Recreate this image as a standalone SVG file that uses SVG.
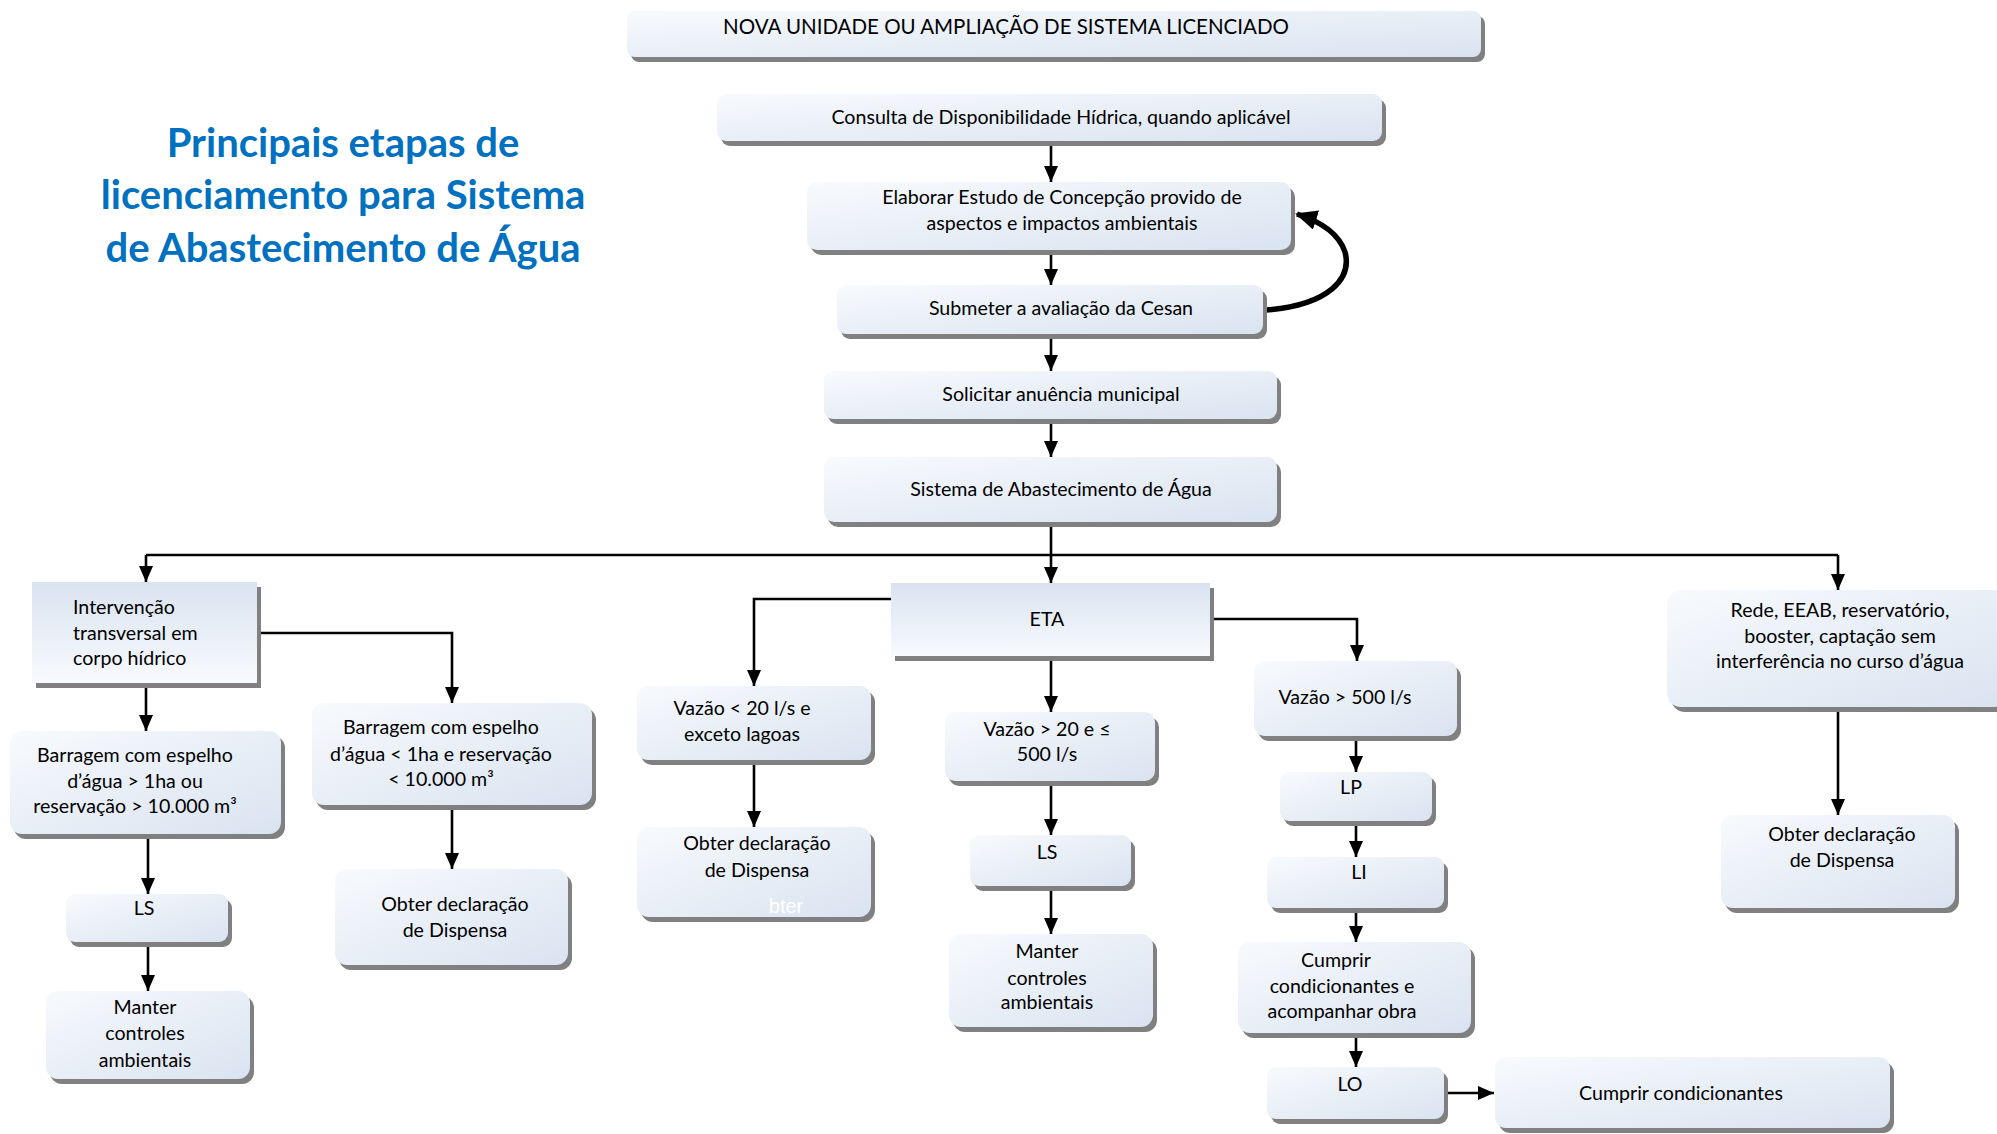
<svg xmlns="http://www.w3.org/2000/svg" width="1997" height="1134" viewBox="0 0 1997 1134">
<defs>
<linearGradient id="g" x1="0" y1="0" x2="1" y2="1">
<stop offset="0" stop-color="#f8fafd"/>
<stop offset="1" stop-color="#d9e3f0"/>
</linearGradient>
<linearGradient id="gv" x1="0" y1="0" x2="0" y2="1">
<stop offset="0" stop-color="#d9e3f0"/>
<stop offset="1" stop-color="#f8fafd"/>
</linearGradient>
<marker id="ar" viewBox="0 0 16 14" refX="16" refY="7" markerWidth="16" markerHeight="14" markerUnits="userSpaceOnUse" orient="auto">
<path d="M0,0 L16,7 L0,14 z" fill="#000"/>
</marker>
<marker id="arb" viewBox="0 0 22 20" refX="20" refY="10" markerWidth="22" markerHeight="20" markerUnits="userSpaceOnUse" orient="auto">
<path d="M0,0 L22,10 L0,20 z" fill="#000"/>
</marker>
</defs>
<style>
.sh{fill:#808080}
.bx{fill:url(#g)}
.bq{fill:url(#gv)}
.t{font-family:Lato,"Liberation Sans",sans-serif;font-size:19.6px;fill:#000;text-anchor:middle}
.tl{text-anchor:start}
.ttl{font-family:Lato,"Liberation Sans",sans-serif;font-size:40px;font-weight:bold;fill:#0070c0;text-anchor:middle}
.c{fill:none;stroke:#000;stroke-width:2.6}
.ca{fill:none;stroke:#000;stroke-width:2.6;marker-end:url(#ar)}
</style>
<rect width="1997" height="1134" fill="#fff"/>

<g id="title">
<text class="ttl" x="343" y="157">Principais etapas de</text>
<text class="ttl" x="343" y="209">licenciamento para Sistema</text>
<text class="ttl" x="343" y="262">de Abastecimento de Água</text>
</g>

<g id="connectors">
<path class="ca" d="M1051,141 V182"/>
<path class="ca" d="M1051,250 V285"/>
<path class="ca" d="M1051,334 V371"/>
<path class="ca" d="M1051,419 V457"/>
<path class="c" d="M1051,522 V555 M146,555 H1838"/>
<path class="ca" d="M146,555 V582"/>
<path class="ca" d="M1051,555 V583"/>
<path class="ca" d="M1838,555 V590"/>
<path d="M1266,310 C1330,305 1352,278 1345,252 C1339,234 1322,222 1297,214" fill="none" stroke="#000" stroke-width="5.5" marker-end="url(#arb)"/>
<path class="ca" d="M146,683 V731"/>
<path class="ca" d="M257,633 H452 V703"/>
<path class="ca" d="M148,834 V894"/>
<path class="ca" d="M148,942 V991"/>
<path class="ca" d="M452,805 V869"/>
<path class="ca" d="M915,599 H754 V686"/>
<path class="ca" d="M754,760 V827"/>
<path class="ca" d="M1051,656 V712"/>
<path class="ca" d="M1051,781 V835"/>
<path class="ca" d="M1051,886 V934"/>
<path class="ca" d="M1210,619 H1357 V661"/>
<path class="ca" d="M1356,736 V772"/>
<path class="ca" d="M1356,821 V857"/>
<path class="ca" d="M1356,908 V942"/>
<path class="ca" d="M1356,1033 V1067"/>
<path class="ca" d="M1444,1093 H1494"/>
<path class="ca" d="M1838,707 V815"/>
</g>

<g id="n-nova">
<rect class="sh" x="631" y="16" width="854" height="46" rx="8"/>
<rect class="bx" x="627" y="11" width="854" height="46" rx="8"/>
<text class="t" x="1006" y="34" style="font-size:20.5px">NOVA UNIDADE OU AMPLIAÇÃO DE SISTEMA LICENCIADO</text>
</g>
<g id="n-consulta">
<rect class="sh" x="721" y="99" width="665" height="47" rx="9"/>
<rect class="bx" x="717" y="94" width="665" height="47" rx="9"/>
<text class="t" x="1061" y="123.5">Consulta de Disponibilidade Hídrica, quando aplicável</text>
</g>
<g id="n-elaborar">
<rect class="sh" x="811" y="187" width="484" height="68" rx="10"/>
<rect class="bx" x="807" y="182" width="484" height="68" rx="10"/>
<text class="t" x="1062" y="203.5">Elaborar Estudo de Concepção provido de</text>
<text class="t" x="1062" y="229.5">aspectos e impactos ambientais</text>
</g>
<g id="n-submeter">
<rect class="sh" x="841" y="290" width="426" height="49" rx="9"/>
<rect class="bx" x="837" y="285" width="426" height="49" rx="9"/>
<text class="t" x="1061" y="314.5">Submeter a avaliação da Cesan</text>
</g>
<g id="n-solicitar">
<rect class="sh" x="828" y="376" width="453" height="48" rx="9"/>
<rect class="bx" x="824" y="371" width="453" height="48" rx="9"/>
<text class="t" x="1061" y="400.5">Solicitar anuência municipal</text>
</g>
<g id="n-sistema">
<rect class="sh" x="828" y="462" width="453" height="65" rx="10"/>
<rect class="bx" x="824" y="457" width="453" height="65" rx="10"/>
<text class="t" x="1061" y="495.5">Sistema de Abastecimento de Água</text>
</g>

<g id="n-intervencao">
<rect class="sh" x="36" y="587" width="225" height="101"/>
<rect class="bq" x="32" y="582" width="225" height="101"/>
<text class="t tl" x="73" y="613.5">Intervenção</text>
<text class="t tl" x="73" y="639.5">transversal em</text>
<text class="t tl" x="73" y="664.5">corpo hídrico</text>
</g>
<g id="n-barragem1">
<rect class="sh" x="14" y="736" width="271" height="103" rx="12"/>
<rect class="bx" x="10" y="731" width="271" height="103" rx="12"/>
<text class="t" x="135" y="761.5">Barragem com espelho</text>
<text class="t" x="135" y="787.5">d’água &gt; 1ha ou</text>
<text class="t" x="135" y="812.5">reservação &gt; 10.000 m³</text>
</g>
<g id="n-ls1">
<rect class="sh" x="70" y="899" width="162" height="48" rx="9"/>
<rect class="bx" x="66" y="894" width="162" height="48" rx="9"/>
<text class="t" x="144" y="914.5">LS</text>
</g>
<g id="n-manter1">
<rect class="sh" x="50" y="996" width="204" height="88" rx="12"/>
<rect class="bx" x="46" y="991" width="204" height="88" rx="12"/>
<text class="t" x="145" y="1013.5">Manter</text>
<text class="t" x="145" y="1039.5">controles</text>
<text class="t" x="145" y="1066.5">ambientais</text>
</g>
<g id="n-barragem2">
<rect class="sh" x="316" y="708" width="280" height="102" rx="12"/>
<rect class="bx" x="312" y="703" width="280" height="102" rx="12"/>
<text class="t" x="441" y="733.5">Barragem com espelho</text>
<text class="t" x="441" y="760.5">d’água &lt; 1ha e reservação</text>
<text class="t" x="441" y="785.5">&lt; 10.000 m³</text>
</g>
<g id="n-obter1">
<rect class="sh" x="339" y="874" width="233" height="96" rx="12"/>
<rect class="bx" x="335" y="869" width="233" height="96" rx="12"/>
<text class="t" x="455" y="910.5">Obter declaração</text>
<text class="t" x="455" y="936.5">de Dispensa</text>
</g>

<g id="n-eta">
<rect class="sh" x="895" y="588" width="319" height="73"/>
<rect class="bq" x="891" y="583" width="319" height="73"/>
<text class="t" x="1047" y="625.5">ETA</text>
</g>
<g id="n-vazao20">
<rect class="sh" x="641" y="691" width="234" height="74" rx="11"/>
<rect class="bx" x="637" y="686" width="234" height="74" rx="11"/>
<text class="t" x="742" y="714.5">Vazão &lt; 20 l/s e</text>
<text class="t" x="742" y="740.5">exceto lagoas</text>
</g>
<g id="n-obter2">
<rect class="sh" x="641" y="832" width="234" height="90" rx="12"/>
<rect class="bx" x="637" y="827" width="234" height="90" rx="12"/>
<text class="t" x="757" y="849.5">Obter declaração</text>
<text class="t" x="757" y="876.5">de Dispensa</text>
<text x="786" y="913" style="font-family:'Liberation Sans',Arial,sans-serif;font-size:20px;fill:#fff;text-anchor:middle">bter</text>
</g>
<g id="n-vazao20500">
<rect class="sh" x="949" y="717" width="210" height="69" rx="10"/>
<rect class="bx" x="945" y="712" width="210" height="69" rx="10"/>
<text class="t" x="1047" y="735.5">Vazão &gt; 20 e ≤</text>
<text class="t" x="1047" y="760.5">500 l/s</text>
</g>
<g id="n-ls2">
<rect class="sh" x="974" y="840" width="161" height="51" rx="9"/>
<rect class="bx" x="970" y="835" width="161" height="51" rx="9"/>
<text class="t" x="1047" y="858.5">LS</text>
</g>
<g id="n-manter2">
<rect class="sh" x="953" y="939" width="204" height="93" rx="12"/>
<rect class="bx" x="949" y="934" width="204" height="93" rx="12"/>
<text class="t" x="1047" y="957.5">Manter</text>
<text class="t" x="1047" y="984.5">controles</text>
<text class="t" x="1047" y="1008.5">ambientais</text>
</g>
<g id="n-vazao500">
<rect class="sh" x="1258" y="666" width="203" height="75" rx="11"/>
<rect class="bx" x="1254" y="661" width="203" height="75" rx="11"/>
<text class="t" x="1345" y="703.5">Vazão &gt; 500 l/s</text>
</g>
<g id="n-lp">
<rect class="sh" x="1284" y="777" width="152" height="49" rx="9"/>
<rect class="bx" x="1280" y="772" width="152" height="49" rx="9"/>
<text class="t" x="1351" y="793.5">LP</text>
</g>
<g id="n-li">
<rect class="sh" x="1271" y="862" width="177" height="51" rx="9"/>
<rect class="bx" x="1267" y="857" width="177" height="51" rx="9"/>
<text class="t" x="1359" y="878.5">LI</text>
</g>
<g id="n-cumprir1">
<rect class="sh" x="1242" y="947" width="233" height="91" rx="12"/>
<rect class="bx" x="1238" y="942" width="233" height="91" rx="12"/>
<text class="t" x="1336" y="966.5">Cumprir</text>
<text class="t" x="1342" y="992.5">condicionantes e</text>
<text class="t" x="1342" y="1017.5">acompanhar obra</text>
</g>
<g id="n-lo">
<rect class="sh" x="1271" y="1072" width="177" height="52" rx="9"/>
<rect class="bx" x="1267" y="1067" width="177" height="52" rx="9"/>
<text class="t" x="1350" y="1090.5">LO</text>
</g>
<g id="n-cumprir2">
<rect class="sh" x="1499" y="1062" width="395" height="71" rx="11"/>
<rect class="bx" x="1495" y="1057" width="395" height="71" rx="11"/>
<text class="t" x="1681" y="1099.5">Cumprir condicionantes</text>
</g>
<g id="n-rede">
<rect class="sh" x="1671" y="595" width="340" height="117" rx="14"/>
<rect class="bx" x="1667" y="590" width="340" height="117" rx="14"/>
<text class="t" x="1840" y="616.5">Rede, EEAB, reservatório,</text>
<text class="t" x="1840" y="642.5">booster, captação sem</text>
<text class="t" x="1840" y="667.5">interferência no curso d’água</text>
</g>
<g id="n-obter3">
<rect class="sh" x="1725" y="820" width="234" height="93" rx="12"/>
<rect class="bx" x="1721" y="815" width="234" height="93" rx="12"/>
<text class="t" x="1842" y="840.5">Obter declaração</text>
<text class="t" x="1842" y="866.5">de Dispensa</text>
</g>
</svg>
